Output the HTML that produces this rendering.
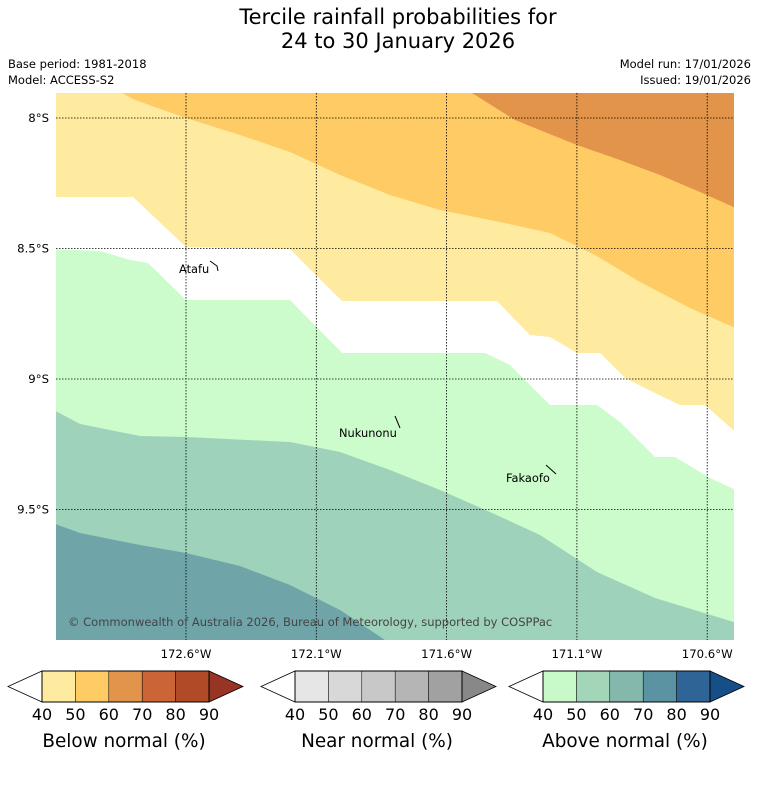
<!DOCTYPE html>
<html><head><meta charset="utf-8"><style>
body{margin:0;background:#fff;font-family:"Liberation Sans","DejaVu Sans",sans-serif;}
svg text{font-family:"DejaVu Sans","Liberation Sans",sans-serif;}
</style></head><body>
<svg id="c" width="758" height="781" xmlns="http://www.w3.org/2000/svg">
<text x="398" y="24" font-size="21" text-anchor="middle">Tercile rainfall probabilities for</text>
<text x="398" y="48" font-size="21" text-anchor="middle">24 to 30 January 2026</text>
<text x="8" y="68" font-size="11.5">Base period: 1981-2018</text>
<text x="8" y="84" font-size="11.5">Model: ACCESS-S2</text>
<text x="751" y="68" font-size="11.5" text-anchor="end">Model run: 17/01/2026</text>
<text x="751" y="84" font-size="11.5" text-anchor="end">Issued: 19/01/2026</text>
<defs><clipPath id="mc"><rect x="56" y="93" width="678" height="547"/></clipPath></defs>
<g id="map" clip-path="url(#mc)"></g>
<g id="over"></g>
</svg>
<script>
// axis: x->lon(W), y->lat(S)
const lonTicks=[172.6,172.1,171.6,171.1,170.6];
const latTicks=[8,8.5,9,9.5];
const X=lon=>186+(172.6-lon)*260.6;
const Y=lat=>118+(lat-8)*261;
const lonOf=x=>172.6-(x-186)/260.6, latOf=y=>8+(y-118)/261;
// boundaries (pixel-traced, converted to lon/lat)
const P=a=>a.map(([x,y])=>[lonOf(x),latOf(y)]);
const bDarkOrange=P([[40,80],[472,80],[472,93],[515,120],[577,145],[620,160],[660,175],[700,192],[740,210]]);
const bOrange=P([[40,80],[120,80],[122,93],[135,100],[186,118],[240,135],[290,152],[340,175],[390,195],[440,210],[500,222],[550,233],[595,255],[640,282],[690,308],[740,330]]);
const bYellow=P([[50,197],[133,197],[186,247],[290,249],[342,301],[497,301],[530,335],[550,337],[577,353],[600,353],[625,378],[655,393],[680,405],[705,405],[740,436]]);
const bWhite=P([[50,249],[100,251],[130,260],[148,263],[186,300],[290,300],[342,353],[485,353],[510,365],[550,405],[597,405],[620,422],[655,457],[675,457],[710,478],[740,492]]);
const bGreen=P([[50,408],[80,424],[140,436],[186,437],[290,442],[340,452],[390,470],[440,490],[490,512],[540,535],[597,572],[655,598],[740,624]]);
const bTeal=P([[50,522],[80,533],[140,545],[186,553],[240,566],[290,585],[340,610],[400,650]]);
const NS='http://www.w3.org/2000/svg';
const map=document.getElementById('map'),over=document.getElementById('over');
function mk(p,tag,at){const e=document.createElementNS(NS,tag);for(const k in at)e.setAttribute(k,at[k]);p.appendChild(e);return e;}
function below(b,col,name){
 let d='M'+b.map(([lo,la])=>X(lo).toFixed(1)+','+Y(la).toFixed(1)).join('L');
 d+='L745,660L40,660Z';
 const e=mk(map,'path',{d:d,fill:col});
 
 
}
mk(map,'rect',{x:56,y:93,width:678,height:547,fill:'#e2944a'});
below(bDarkOrange,'#fecb65','below-50-60-region');
below(bOrange,'#feeb9f','below-40-50-region');
below(bYellow,'#ffffff','no-dominant-region');
below(bWhite,'#ccfccb','above-40-50-region');
below(bGreen,'#9ed2ba','above-50-60-region');
below(bTeal,'#6fa5a8','above-60-70-region');
// grid
lonTicks.forEach(l=>{const e=mk(over,'line',{x1:X(l),x2:X(l),y1:93,y2:640,stroke:'#000','stroke-width':0.8,'stroke-dasharray':'1.5,1.5'});
 
 const t=mk(over,'text',{x:X(l),y:658,'font-size':11.7,'text-anchor':'middle'});t.textContent=l+'°W';
 });
latTicks.forEach(l=>{const e=mk(over,'line',{x1:56,x2:734,y1:Y(l),y2:Y(l),stroke:'#000','stroke-width':0.8,'stroke-dasharray':'1.5,1.5'});
 
 const t=mk(over,'text',{x:49,y:Y(l)+4,'font-size':11.7,'text-anchor':'end'});t.textContent=l+'°S';
 });
// places
const places=[['Atafu',179,273,[[210,261],[217,266],[218,271]]],['Nukunonu',339,437,[[395,416],[400,428]]],['Fakaofo',506,482,[[546,465],[556,474]]]];
places.forEach(([n,x,y,pts])=>{const t=mk(over,'text',{x:x,y:y,'font-size':11.4});t.textContent=n;
 
 const p=mk(over,'polyline',{points:pts.map(q=>q.join(',')).join(' '),fill:'none',stroke:'#000','stroke-width':1});
 });
const cr=mk(over,'text',{x:68,y:626,'font-size':11.5,fill:'#444'});cr.textContent='© Commonwealth of Australia 2026, Bureau of Meteorology, supported by COSPPac';

// colorbars
const cbTicks=[40,50,60,70,80,90];
const cbars=[['Below normal (%)',8,['#feeb9f','#fecb65','#e2944a','#cc6535','#b14b27'],'#983423','below-colorbar'],
 ['Near normal (%)',261,['#e6e6e6','#d8d8d8','#c8c8c8','#b5b5b5','#a1a1a1'],'#888888','near-colorbar'],
 ['Above normal (%)',509,['#c8f9c8','#a3d6b8','#84b8ac','#5c93a2','#2f6497'],'#164f88','above-colorbar']];
cbars.forEach(([lab,x0,cols,ext,name])=>{
 const g=mk(over,'g',{});
 const bx=x0+34,w=167/5,y0=671,y1=702,ym=686.5;
 mk(g,'polygon',{points:`${bx},${y0} ${x0},${ym} ${bx},${y1}`,fill:'#fff',stroke:'#000','stroke-width':0.8});
 cols.forEach((c,i)=>mk(g,'rect',{x:bx+i*w,y:y0,width:w,height:y1-y0,fill:c,stroke:'#000','stroke-width':0.5}));
 const be=bx+167;
 mk(g,'polygon',{points:`${be},${y0} ${be+34},${ym} ${be},${y1}`,fill:ext,stroke:'#000','stroke-width':0.8});
 mk(g,'rect',{x:bx,y:y0,width:167,height:y1-y0,fill:'none',stroke:'#000','stroke-width':1});
 cbTicks.forEach((t,i)=>{const e=mk(g,'text',{x:bx+i*w,y:720,'font-size':16,'text-anchor':'middle'});e.textContent=t;
  });
 const tl=mk(g,'text',{x:bx+82,y:747,'font-size':18.4,'text-anchor':'middle'});tl.textContent=lab;
 
});
</script>
</body></html>
